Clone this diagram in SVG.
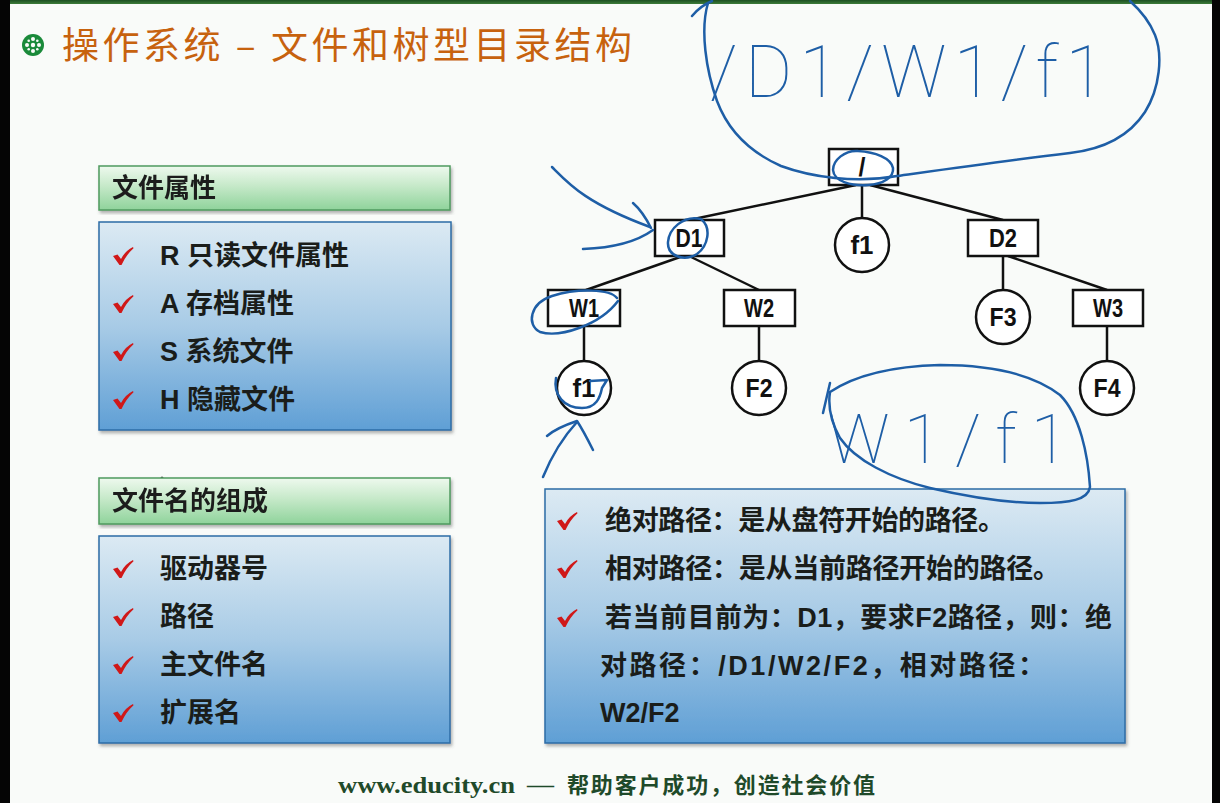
<svg xmlns="http://www.w3.org/2000/svg" width="1220" height="803" viewBox="0 0 1220 803">
  <defs>
    <linearGradient id="hdrGrad" x1="0" y1="0" x2="0" y2="1">
      <stop offset="0" stop-color="#eef9ee"/>
      <stop offset="0.45" stop-color="#c6e9c9"/>
      <stop offset="1" stop-color="#8fd39b"/>
    </linearGradient>
    <linearGradient id="bodyGrad" x1="0" y1="0" x2="0" y2="1">
      <stop offset="0" stop-color="#dceaf3"/>
      <stop offset="0.5" stop-color="#a8cbe6"/>
      <stop offset="1" stop-color="#5f9fd5"/>
    </linearGradient>
    <linearGradient id="topBar" x1="0" y1="0" x2="0" y2="1">
      <stop offset="0" stop-color="#1d4f22"/>
      <stop offset="1" stop-color="#3d7d3a"/>
    </linearGradient>
    <filter id="shadow" x="-5%" y="-5%" width="110%" height="115%">
      <feDropShadow dx="1.5" dy="2.5" stdDeviation="1.5" flood-color="#555" flood-opacity="0.45"/>
    </filter>
    <path id="tick" d="M0,9 L4.5,7.5 L8,12 Q12,4 20,0 L20.5,1.2 Q13,8 8.5,18 L6.5,18 Z" fill="#d01818"/>
    <style>
      .hdr { fill: url(#hdrGrad); stroke: #4f9a5f; stroke-width: 1.5; }
      .body { fill: url(#bodyGrad); stroke: #2d6ca6; stroke-width: 1.5; }
      .cjk { font-family: "Liberation Sans", "Noto Sans CJK SC", sans-serif; font-weight: bold; fill: #1a1d1a; }
      .hdrtxt { font-size: 26px; }
      .item { font-size: 27px; }
      .node rect { fill: #ffffff; stroke: #111; stroke-width: 2.5; }
      .node circle { fill: #ffffff; stroke: #111; stroke-width: 2.5; }
      .node text { font-family: "Liberation Sans Narrow", "Liberation Sans", sans-serif; font-weight: bold; font-size: 25px; fill: #111; text-anchor: middle; }
      .edges line { stroke: #111; stroke-width: 2.5; }
      .ink { fill: none; stroke: #1e5ea6; stroke-width: 2.5; stroke-linecap: round; stroke-linejoin: round; }
      .inktxt { font-family: Roboto, Lato, "Open Sans", sans-serif; font-weight: 100; fill: #1e5ea6; }
    </style>
  </defs>

  <!-- slide background and frame -->
  <rect x="0" y="0" width="1220" height="803" fill="#f9fbf9"/>
  <rect x="0" y="0" width="1220" height="4" fill="url(#topBar)"/>
  <rect x="0" y="0" width="10" height="803" fill="#050505"/>
  <rect x="1212" y="0" width="8" height="803" fill="#050505"/>

  <!-- title -->
  <g id="title">
    <g transform="translate(33,45)" fill="#1a8a3a">
      <circle r="11"/>
      <g fill="#f9fbf9">
        <circle r="2.2"/>
        <circle cx="0" cy="-6" r="2"/>
        <circle cx="0" cy="6" r="2"/>
        <circle cx="-6" cy="0" r="2"/>
        <circle cx="6" cy="0" r="2"/>
        <circle cx="-4.3" cy="-4.3" r="1.3"/>
        <circle cx="4.3" cy="-4.3" r="1.3"/>
        <circle cx="-4.3" cy="4.3" r="1.3"/>
        <circle cx="4.3" cy="4.3" r="1.3"/>
      </g>
    </g>
    <text x="62" y="59" textLength="570" lengthAdjust="spacing" font-family="'Noto Sans CJK SC', sans-serif" font-size="37" fill="#c7620e">操作系统 – 文件和树型目录结构</text>
  </g>

  <!-- file attributes panel -->
  <g id="attr-header" filter="url(#shadow)">
    <rect class="hdr" x="99" y="166" width="351" height="44"/>
    <text class="cjk hdrtxt" x="112" y="197">文件属性</text>
  </g>
  <g id="attr-list">
    <rect class="body" x="99" y="222" width="352" height="208" filter="url(#shadow)"/>
    <use href="#tick" x="113" y="247"/>
    <use href="#tick" x="113" y="295"/>
    <use href="#tick" x="113" y="343"/>
    <use href="#tick" x="113" y="391"/>
    <text class="cjk item" x="160" y="265">R 只读文件属性</text>
    <text class="cjk item" x="160" y="313">A 存档属性</text>
    <text class="cjk item" x="160" y="361">S 系统文件</text>
    <text class="cjk item" x="160" y="409">H 隐藏文件</text>
  </g>

  <!-- file name panel -->
  <circle cx="162" cy="478" r="1.5" fill="#444"/>
  <g id="name-header" filter="url(#shadow)">
    <rect class="hdr" x="99" y="478" width="351" height="46"/>
    <text class="cjk hdrtxt" x="112" y="510">文件名的组成</text>
  </g>
  <g id="name-list">
    <rect class="body" x="99" y="536" width="351" height="207" filter="url(#shadow)"/>
    <use href="#tick" x="113" y="560"/>
    <use href="#tick" x="113" y="608"/>
    <use href="#tick" x="113" y="656"/>
    <use href="#tick" x="113" y="704"/>
    <text class="cjk item" x="160" y="578">驱动器号</text>
    <text class="cjk item" x="160" y="626">路径</text>
    <text class="cjk item" x="160" y="674">主文件名</text>
    <text class="cjk item" x="160" y="722">扩展名</text>
  </g>

  <!-- path explanation panel -->
  <g id="path-notes">
    <rect class="body" x="545" y="489" width="580" height="254" filter="url(#shadow)"/>
    <use href="#tick" x="557" y="512"/>
    <use href="#tick" x="557" y="560"/>
    <use href="#tick" x="557" y="609"/>
    <text class="cjk item" x="605" y="530" textLength="400" lengthAdjust="spacing">绝对路径：是从盘符开始的路径。</text>
    <text class="cjk item" x="605" y="578" textLength="455" lengthAdjust="spacing">相对路径：是从当前路径开始的路径。</text>
    <text class="cjk item" x="605" y="627" textLength="507" lengthAdjust="spacing">若当前目前为：D1，要求F2路径，则：绝</text>
    <text class="cjk item" x="600" y="675" textLength="445" lengthAdjust="spacing">对路径：/D1/W2/F2，相对路径：</text>
    <text class="cjk item" x="600" y="722">W2/F2</text>
  </g>

  <!-- directory tree connectors -->
  <g id="connectors" class="edges">
    <line x1="856" y1="185" x2="689" y2="220"/>
    <line x1="862" y1="185" x2="862" y2="218"/>
    <line x1="870" y1="185" x2="1003" y2="220"/>
    <line x1="683" y1="256" x2="586" y2="290"/>
    <line x1="689" y1="256" x2="759" y2="290"/>
    <line x1="1003" y1="256" x2="1003" y2="289"/>
    <line x1="1008" y1="256" x2="1107" y2="290"/>
    <line x1="584" y1="326" x2="584" y2="361"/>
    <line x1="759" y1="326" x2="759" y2="361"/>
    <line x1="1107" y1="326" x2="1107" y2="360"/>
  </g>

  <!-- directory tree nodes -->
  <g id="node-root" class="node">
    <rect x="829" y="149" width="69" height="36"/>
    <text x="862" y="176" font-weight="normal">/</text>
  </g>
  <g id="node-d1" class="node">
    <rect x="655" y="220" width="69" height="36"/>
    <text x="689" y="247" textLength="27" lengthAdjust="spacingAndGlyphs">D1</text>
  </g>
  <g id="node-f1-root" class="node">
    <circle cx="862" cy="245" r="27"/>
    <text x="862" y="254" textLength="23" lengthAdjust="spacingAndGlyphs">f1</text>
  </g>
  <g id="node-d2" class="node">
    <rect x="968" y="220" width="70" height="36"/>
    <text x="1003" y="247" textLength="28" lengthAdjust="spacingAndGlyphs">D2</text>
  </g>
  <g id="node-w1" class="node">
    <rect x="548" y="290" width="72" height="36"/>
    <text x="584" y="317" textLength="30" lengthAdjust="spacingAndGlyphs">W1</text>
  </g>
  <g id="node-w2" class="node">
    <rect x="724" y="290" width="71" height="36"/>
    <text x="759" y="317" textLength="30" lengthAdjust="spacingAndGlyphs">W2</text>
  </g>
  <g id="node-f3" class="node">
    <circle cx="1003" cy="317" r="27"/>
    <text x="1003" y="326" textLength="27" lengthAdjust="spacingAndGlyphs">F3</text>
  </g>
  <g id="node-w3" class="node">
    <rect x="1073" y="290" width="70" height="36"/>
    <text x="1108" y="317" textLength="30" lengthAdjust="spacingAndGlyphs">W3</text>
  </g>
  <g id="node-f1-w1" class="node">
    <circle cx="584" cy="388" r="27"/>
    <text x="584" y="397" textLength="23" lengthAdjust="spacingAndGlyphs">f1</text>
  </g>
  <g id="node-f2" class="node">
    <circle cx="759" cy="388" r="27"/>
    <text x="759" y="397" textLength="27" lengthAdjust="spacingAndGlyphs">F2</text>
  </g>
  <g id="node-f4" class="node">
    <circle cx="1107" cy="388" r="27"/>
    <text x="1107" y="397" textLength="27" lengthAdjust="spacingAndGlyphs">F4</text>
  </g>

  <!-- pen annotations -->
  <g id="ink">
    <path class="ink" d="M692,16 Q700,6 712,1"/>
    <path class="ink" d="M708,3 C700,30 706,70 717,101 C726,125 745,150 781,166 C800,173 815,176 835,178 C855,180 880,179 897,176 C940,170 1010,160 1070,153 C1105,149 1130,135 1145,112 C1160,88 1163,55 1155,35 C1149,20 1140,10 1130,1"/>
    <path class="ink" d="M858,151 C845,150 833,160 833,170 C834,182 852,186 868,185 C884,184 894,177 893,168 C891,158 875,152 858,151"/>
    <path class="ink" d="M552,167 C568,183 585,203 650,227"/>
    <path class="ink" d="M633,203 C641,210 646,218 651,228"/>
    <path class="ink" d="M583,249 C610,248 635,243 653,230"/>
    <path class="ink" d="M701,219 C683,215 669,229 668,242 C667,256 684,262 697,254 C708,246 712,228 701,219"/>
    <path class="ink" d="M617,298 C610,289 578,288 552,296 C530,303 526,325 540,332 C560,338 600,325 618,301"/>
    <path class="ink" d="M556,378 C553,395 564,408 582,408 C596,408 600,398 602,388 L607,380 L590,381"/>
    <path class="ink" d="M543,477 C552,455 565,435 577,422"/>
    <path class="ink" d="M547,436 C556,428 568,424 577,421 C583,430 588,440 593,450"/>
    <path class="ink" d="M830,392 C860,372 900,366 940,365 C985,365 1030,372 1060,395 C1080,415 1088,455 1090,487 C1088,500 1070,503 1040,503 C1000,503 960,495 930,488 C890,478 855,460 840,438 C830,420 828,405 830,392"/>
    <path class="ink" d="M830,383 L823,413"/>
    <text class="inktxt" x="710" y="97" font-size="72" textLength="395" lengthAdjust="spacing">/D1/W1/f1</text>
    <text class="inktxt" x="828" y="463" font-size="68" textLength="240" lengthAdjust="spacing">W1/f1</text>
  </g>

  <!-- footer -->
  <g id="footer" fill="#1f4a2a">
    <text x="338" y="793" textLength="177" lengthAdjust="spacingAndGlyphs" font-family="'Liberation Serif', serif" font-weight="bold" font-size="24">www.educity.cn</text>
    <text x="527" y="792" textLength="27" lengthAdjust="spacingAndGlyphs" font-family="'Liberation Serif', serif" font-weight="bold" font-size="22">—</text>
    <text x="567" y="793" textLength="308" lengthAdjust="spacing" font-family="'Noto Sans CJK SC', sans-serif" font-weight="bold" font-size="22">帮助客户成功，创造社会价值</text>
  </g>
</svg>
